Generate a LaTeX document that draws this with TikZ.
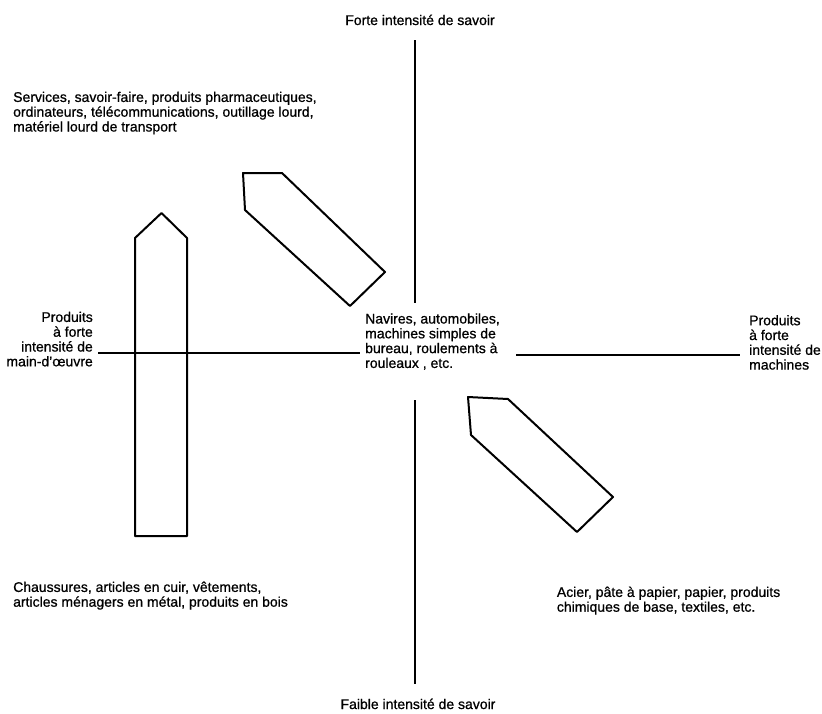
\documentclass[tikz,border=0pt]{standalone}
\usepackage{fontspec}
\setmainfont{Liberation Sans}[FakeBold=0.8]
\begin{document}
\begin{tikzpicture}[x=1pt,y=-1pt,
  lbl/.style={inner sep=0pt,font=\fontsize{14}{14.8}\selectfont},
  axis/.style={line width=2pt},
  outline/.style={line width=2pt,line join=round}]
\useasboundingbox (0,0) rectangle (822,713);
\newcommand{\fl}{\rule{0pt}{10.5pt}}
% axes
\coordinate (vt) at (415,40);
\coordinate (vtb) at (415,303);
\coordinate (vbt) at (415,400);
\coordinate (vb) at (415,684);
\coordinate (hl) at (98,353);
\coordinate (hlr) at (360,353);
\coordinate (hrl) at (516,355);
\coordinate (hr) at (740,355);
\draw[axis] (vt) -- (vtb);
\draw[axis] (vbt) -- (vb);
\draw[axis] (hl) -- (hlr);
\draw[axis] (hrl) -- (hr);
% shapes
\draw[outline] (135,536) -- (135,238) -- (161.5,213) -- (187,238) -- (187,536) -- cycle;
\draw[outline] (243,173) -- (282,173) -- (385,272) -- (350,306) -- (245,210) -- cycle;
\draw[outline] (468,397) -- (508,399) -- (613,497) -- (577,532) -- (471,435) -- cycle;
% labels
\node[lbl,anchor=base] (top) at (420,25) {Forte intensité de savoir};
\node[lbl,anchor=base] (bot) at (418,709) {Faible intensité de savoir};
\node[lbl,anchor=north west,align=left] (tl) at (13,91.2)
  {\fl Services, savoir-faire, produits pharmaceutiques,\\ordinateurs, télécommunications, outillage lourd,\\matériel lourd de transport};
\node[lbl,anchor=north east,align=right] (left) at (93,311.2)
  {\fl Produits\\à forte\\intensité de\\main-d'œuvre};
\node[lbl,anchor=north west,align=left] (right) at (749,314.5)
  {\fl Produits\\à forte\\intensité de\\machines};
\node[lbl,anchor=north west,align=left] (ctr) at (365,312.8)
  {\fl Navires, automobiles,\\machines simples de\\bureau, roulements à\\rouleaux , etc.};
\node[lbl,anchor=north west,align=left] (bl) at (13,581.2)
  {\fl Chaussures, articles en cuir, vêtements,\\articles ménagers en métal, produits en bois};
\node[lbl,anchor=north west,align=left] (br) at (556.7,586.2)
  {\fl Acier, pâte à papier, papier, produits\\chimiques de base, textiles, etc.};
\end{tikzpicture}
\end{document}
